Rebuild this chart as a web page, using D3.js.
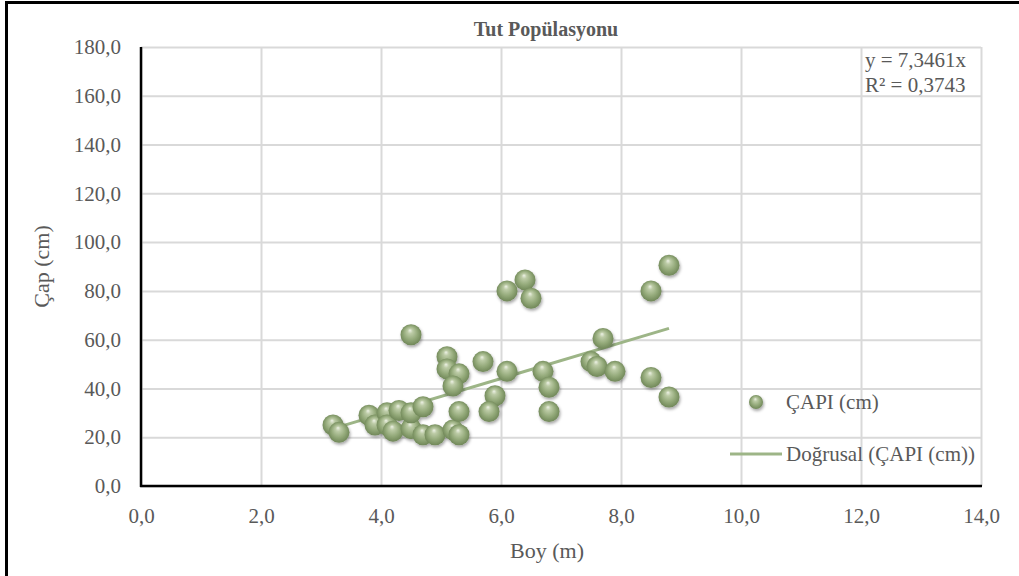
<!DOCTYPE html>
<html>
<head>
<meta charset="utf-8">
<script src="https://cdn.jsdelivr.net/npm/d3@7"></script>
<style>
  html, body { margin: 0; padding: 0; background: #fff; }
  svg text { font-family: "Liberation Serif", "Times New Roman", serif; fill: #595959; }
</style>
</head>
<body>
<svg id="chart" width="1019" height="576"></svg>
<script>
// Tree height (m) and trunk diameter (cm) measurements
const boy = [3.2, 3.3, 3.8, 3.9, 4.1, 4.1, 4.2, 4.3, 4.5, 4.5, 4.5, 4.7, 4.7, 4.9,
             5.1, 5.1, 5.3, 5.2, 5.2, 5.3, 5.3, 5.7, 5.9, 5.8, 6.1, 6.1, 6.4, 6.5,
             6.7, 6.8, 6.8, 7.7, 7.5, 7.6, 7.9, 8.5, 8.8, 8.5, 8.8];
const cap = [25, 22, 29, 25, 30, 25, 22.5, 31, 23.5, 62, 30, 32.5, 21, 21,
             53, 48, 46, 41, 23, 21, 30.5, 51, 37, 30.5, 47, 80, 84.5, 77,
             47, 40.5, 30.5, 60.5, 51, 49, 47, 80, 90.5, 44.5, 36.5];

// Linear trend through the origin
const slope = 7.3461;
const rSquared = 0.3743;

const xTicks = [0, 2, 4, 6, 8, 10, 12, 14];
const yTicks = [0, 20, 40, 60, 80, 100, 120, 140, 160, 180];

const titleText = "Tut Popülasyonu";
const xTitle = "Boy (m)";
const yTitle = "Çap (cm)";
const seriesName = "ÇAPI (cm)";
const trendName = "Doğrusal (ÇAPI (cm))";

const fmt = v => v.toFixed(1).replace(".", ",");

const svg = d3.select("#chart");
const plot = { left: 141, right: 981, top: 47, bottom: 486 };

const x = d3.scaleLinear().domain([0, 14]).range([plot.left, plot.right]);
const y = d3.scaleLinear().domain([0, 180]).range([plot.bottom, plot.top]);

// Sphere shading and soft shadow for the markers
const defs = svg.append("defs");
const grad = defs.append("radialGradient").attr("id", "ball")
  .attr("cx", "50%").attr("cy", "50%").attr("r", "55%")
  .attr("fx", "45%").attr("fy", "28%");
[[0, "#eef2e6"], [0.22, "#bccba6"], [0.6, "#93a979"], [0.9, "#748b5c"], [1, "#66794f"]]
  .forEach(([o, c]) => grad.append("stop").attr("offset", o).attr("stop-color", c));
const shadow = defs.append("filter").attr("id", "shadow")
  .attr("x", "-50%").attr("y", "-50%").attr("width", "200%").attr("height", "200%");
shadow.append("feDropShadow").attr("dx", 1).attr("dy", 2)
  .attr("stdDeviation", 1.6).attr("flood-color", "#000").attr("flood-opacity", 0.35);

// Outer frame
svg.append("path")
  .attr("d", `M6.5,580 V2.5 H1025`)
  .attr("fill", "none").attr("stroke", "#000").attr("stroke-width", 3);

// Gridlines
svg.append("g").attr("class", "grid-x")
  .attr("transform", `translate(0,${plot.bottom})`)
  .call(d3.axisBottom(x).tickValues(xTicks).tickSize(-(plot.bottom - plot.top)).tickFormat(""))
  .call(g => g.select(".domain").remove())
  .call(g => g.selectAll("line").attr("stroke", "#d9d9d9").attr("stroke-width", 2));
svg.append("g").attr("class", "grid-y")
  .attr("transform", `translate(${plot.left},0)`)
  .call(d3.axisLeft(y).tickValues(yTicks).tickSize(-(plot.right - plot.left)).tickFormat(""))
  .call(g => g.select(".domain").remove())
  .call(g => g.selectAll("line").attr("stroke", "#d9d9d9").attr("stroke-width", 2));

// Axis lines
svg.append("line").attr("x1", plot.left).attr("x2", plot.left)
  .attr("y1", plot.top).attr("y2", plot.bottom + 1)
  .attr("stroke", "#000").attr("stroke-width", 2.5);
svg.append("line").attr("x1", plot.left - 1).attr("x2", plot.right + 1)
  .attr("y1", plot.bottom).attr("y2", plot.bottom)
  .attr("stroke", "#000").attr("stroke-width", 2.5);

// Tick labels
const xAxis = svg.append("g")
  .attr("transform", `translate(0,${plot.bottom})`)
  .call(d3.axisBottom(x).tickValues(xTicks).tickSize(0).tickPadding(22).tickFormat(fmt));
xAxis.select(".domain").remove();
xAxis.selectAll("text").attr("font-size", 21).attr("font-family", "Liberation Serif");

const yAxis = svg.append("g")
  .attr("transform", `translate(${plot.left},0)`)
  .call(d3.axisLeft(y).tickValues(yTicks).tickSize(0).tickPadding(20).tickFormat(fmt));
yAxis.select(".domain").remove();
yAxis.selectAll("text").attr("font-size", 21).attr("font-family", "Liberation Serif");

// Titles
svg.append("text").attr("x", 546).attr("y", 36)
  .attr("text-anchor", "middle").attr("font-size", 20).attr("font-weight", "bold")
  .text(titleText);
svg.append("text").attr("x", 547).attr("y", 558)
  .attr("text-anchor", "middle").attr("font-size", 22).text(xTitle);
svg.append("text")
  .attr("transform", `translate(49,${(plot.top + plot.bottom) / 2}) rotate(-90)`)
  .attr("text-anchor", "middle").attr("font-size", 22).text(yTitle);

// Trend line over the measured height range
const xr = d3.extent(boy);
svg.append("line")
  .attr("x1", x(xr[0])).attr("y1", y(slope * xr[0]))
  .attr("x2", x(xr[1])).attr("y2", y(slope * xr[1]))
  .attr("stroke", "#9db587").attr("stroke-width", 3);

// Points
svg.append("g").attr("filter", "url(#shadow)")
  .selectAll("circle").data(boy.map((b, i) => [b, cap[i]]))
  .join("circle")
  .attr("cx", d => x(d[0])).attr("cy", d => y(d[1]))
  .attr("r", 10.5).attr("fill", "url(#ball)");

// Trend equation
const eq = svg.append("g");
eq.append("text").attr("x", 865).attr("y", 67).attr("font-size", 21)
  .text(`y = ${slope.toString().replace(".", ",")}x`);
eq.append("text").attr("x", 865).attr("y", 92).attr("font-size", 21)
  .text(`R² = ${rSquared.toString().replace(".", ",")}`);

// Legend
const lg = svg.append("g");
lg.append("circle").attr("cx", 756).attr("cy", 402).attr("r", 7)
  .attr("fill", "url(#ball)").attr("filter", "url(#shadow)");
lg.append("text").attr("x", 786).attr("y", 409).attr("font-size", 21).text(seriesName);
lg.append("line").attr("x1", 730).attr("x2", 782).attr("y1", 454).attr("y2", 454)
  .attr("stroke", "#9db587").attr("stroke-width", 3);
lg.append("text").attr("x", 786).attr("y", 461).attr("font-size", 21).text(trendName);
</script>
</body>
</html>
